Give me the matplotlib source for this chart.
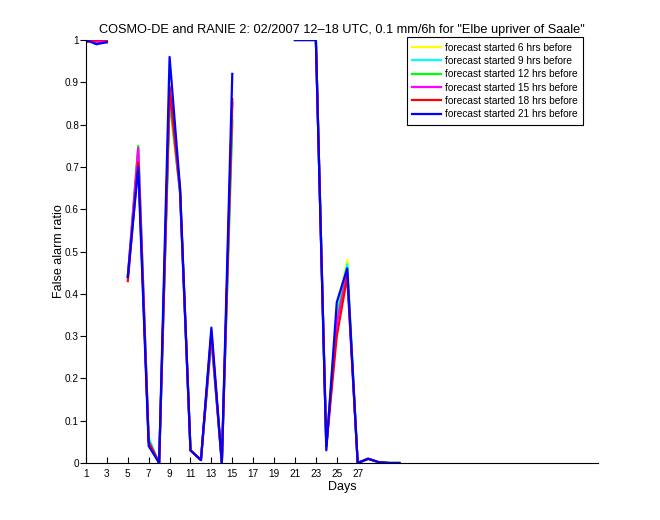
import numpy as np
import matplotlib
matplotlib.use("Agg")
import matplotlib.pyplot as plt

nan = np.nan
days = list(range(1, 32))

labels = ["forecast started 6 hrs before", "forecast started 9 hrs before",
          "forecast started 12 hrs before", "forecast started 15 hrs before",
          "forecast started 18 hrs before", "forecast started 21 hrs before"]
colors = ["#ffff00", "#00ffff", "#00ff00", "#ff00ff", "#ff0000", "#0000ff"]

fc06 = [1.0, 0.995, 0.995, nan, 0.44, 0.73, 0.05, 0.0, 0.85, 0.64, 0.03, 0.007, 0.30, 0.0, 0.80,
        nan, nan, nan, nan, nan, 1.0, 1.0, 1.0, 0.04, 0.36, 0.48, 0.0, 0.01, 0.002, 0.0, 0.0]
fc09 = [1.0, 0.995, 0.995, nan, 0.44, 0.73, 0.06, 0.0, 0.87, 0.64, 0.03, 0.007, 0.30, 0.0, 0.82,
        nan, nan, nan, nan, nan, 1.0, 1.0, 1.0, 0.04, 0.35, 0.47, 0.0, 0.01, 0.002, 0.0, 0.0]
fc12 = [1.0, 0.995, 0.995, nan, 0.44, 0.75, 0.05, 0.0, 0.86, 0.64, 0.03, 0.007, 0.29, 0.0, 0.81,
        nan, nan, nan, nan, nan, 1.0, 1.0, 1.0, 0.04, 0.34, 0.46, 0.0, 0.01, 0.002, 0.0, 0.0]
fc15 = [1.0, 0.995, 0.995, nan, 0.44, 0.745, 0.05, 0.0, 0.88, 0.64, 0.03, 0.007, 0.30, 0.0, 0.85,
        nan, nan, nan, nan, nan, 1.0, 1.0, 1.0, 0.04, 0.33, 0.45, 0.0, 0.01, 0.002, 0.0, 0.0]
fc18 = [0.995, 1.0, 1.0, nan, 0.43, 0.71, 0.05, 0.0, 0.89, 0.65, 0.03, 0.007, 0.31, 0.0, 0.86,
        nan, nan, nan, nan, nan, 1.0, 1.0, 1.0, 0.04, 0.30, 0.44, 0.0, 0.01, 0.002, 0.0, 0.0]
fc21 = [1.0, 0.99, 0.995, nan, 0.44, 0.70, 0.04, 0.0, 0.96, 0.65, 0.03, 0.007, 0.32, 0.0, 0.92,
        nan, nan, nan, nan, nan, 1.0, 1.0, 1.0, 0.03, 0.38, 0.46, 0.0, 0.01, 0.002, 0.0, 0.0]
series = [fc06, fc09, fc12, fc15, fc18, fc21]

xticks = list(range(1, 28, 2))
yticks = [0, 0.1, 0.2, 0.3, 0.4, 0.5, 0.6, 0.7, 0.8, 0.9, 1]
yticklabels = ["0", "0.1", "0.2", "0.3", "0.4", "0.5", "0.6", "0.7", "0.8", "0.9", "1"]

plt.rcParams['font.family'] = ['Liberation Sans', 'DejaVu Sans']
fig = plt.figure(figsize=(6.6, 5.2), dpi=100)
ax = fig.add_axes([86/660, 57/520, 512/660, 423/520])
for s, c, l in zip(series, colors, labels):
    ax.plot(days, s, color=c, lw=1.6, label=l)
ax.set_xlim(1, 50)
ax.set_ylim(0, 1)
ax.set_xticks(xticks)
ax.set_xticklabels([str(t) for t in xticks], fontsize=7.2)
ax.set_yticks(yticks)
ax.set_yticklabels(yticklabels, fontsize=7.2)
ax.tick_params(axis='x', direction='in', length=4, width=0.8, pad=4)
ax.tick_params(axis='y', direction='out', length=4, width=0.8, pad=1)
for sp in ['top', 'right']:
    ax.spines[sp].set_visible(False)
ax.set_xlabel("Days", fontsize=9, labelpad=2)
ax.set_ylabel("False alarm ratio", fontsize=9, labelpad=0)
ax.set_title('COSMO-DE and RANIE 2: 02/2007 12\u201318 UTC, 0.1 mm/6h for "Elbe upriver of Saale"',
             fontsize=9.2, pad=5)
leg = ax.legend(loc='upper right', bbox_to_anchor=(583/660, 483/520), bbox_transform=fig.transFigure,
                fontsize=7.3, fancybox=False, edgecolor='black', framealpha=1,
                handlelength=2.8, handletextpad=0.4, labelspacing=0.33, borderpad=0.55,
                borderaxespad=0)
leg.get_frame().set_linewidth(0.8)
fig.savefig("out.png", dpi=100)
